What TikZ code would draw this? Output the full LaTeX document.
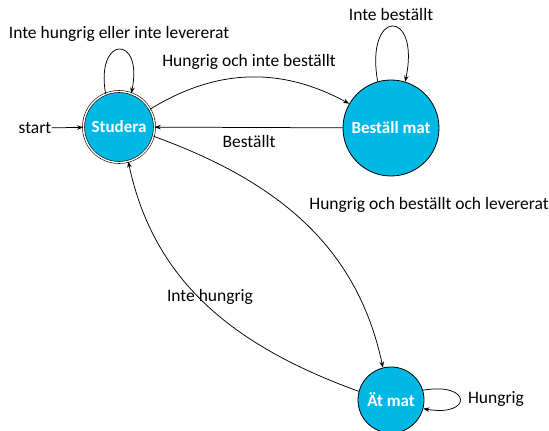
\documentclass[tikz,border=0pt]{standalone}
\usepackage{fontspec}
\setmainfont{Carlito}
\usetikzlibrary{arrows.meta}
\definecolor{statefill}{RGB}{0,184,228}
\tikzset{
  state/.style={circle, draw=black, line width=0.8pt, fill=statefill, text=white, font=\fontsize{17}{20}\selectfont\bfseries, inner sep=0pt},
  lbl/.style={font=\fontsize{17.5}{20}\selectfont, inner sep=0pt},
  edge/.style={-{Stealth[length=6pt,width=4.5pt]}, line width=0.75pt},
}
\begin{document}
\begin{tikzpicture}[x=1pt,y=1pt]
\useasboundingbox (0,0) rectangle (549,431);
\node[state, double, double distance=1.4pt, line width=0.6pt, minimum size=71pt] (S) at (119,304) {Studera};
\node[state, minimum size=96pt] (B) at (391,303) {Beställ mat};
\node[state, minimum size=66pt] (A) at (391,31) {Ät mat};
\node[lbl] (start) at (35,303) {start};
\node[lbl] (l1) at (119,397) {Inte hungrig eller inte levererat};
\node[lbl] (l2) at (249,369) {Hungrig och inte beställt};
\node[lbl] (l3) at (249,290) {Beställt};
\node[lbl] (l4) at (391,417) {Inte beställt};
\node[lbl] (l5) at (429,226) {Hungrig och beställt och levererat};
\node[lbl] (l6) at (210,134) {Inte hungrig};
\node[lbl] (l7) at (496,32) {Hungrig};
\draw[edge] (start) -- (S);
\draw[edge] (S.112) .. controls +(100:60) and +(78:60) .. (S.70);
\draw[edge] (S) to[bend left=30] (B);
\draw[edge] (B) -- (S);
\draw[edge] (B.106) .. controls +(100:75) and +(78:75) .. (B.73);
\draw[edge] (S.-15) to[out=-20,in=102] (A.104);
\draw[edge] (A.165) to[out=160,in=-78] (S.-75);
\draw[edge] (A.17) .. controls +(10:50) and +(-10:50) .. (A.-15);
\end{tikzpicture}
\end{document}
